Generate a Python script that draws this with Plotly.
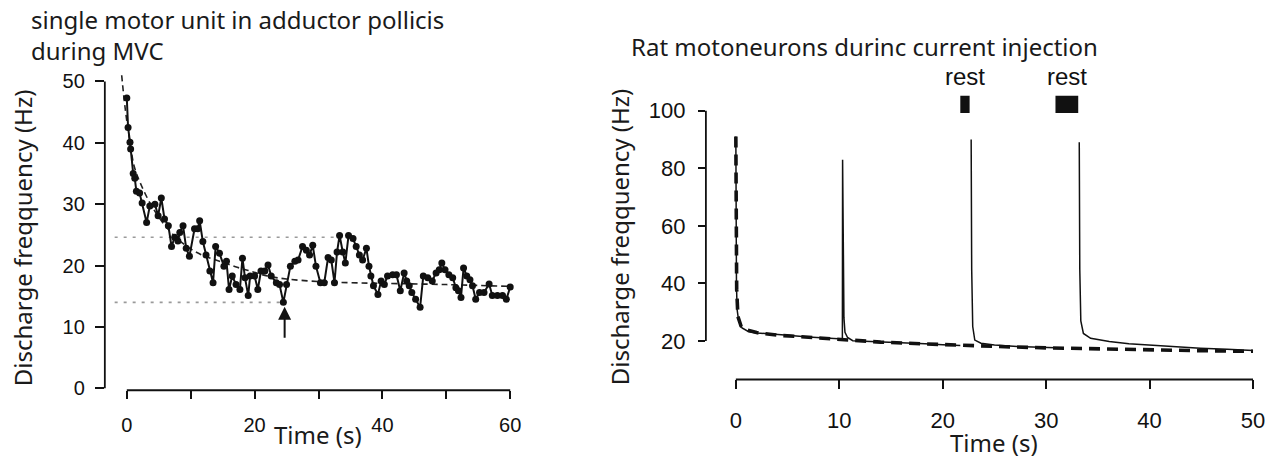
import plotly.graph_objects as go

W, H = 1279, 463

# ---------------- Left panel data (single motor unit, adductor pollicis) ----------------
mu_time = [0, 0.2, 0.5, 0.6, 1.0, 1.25, 1.5, 2.0, 2.4, 3.1, 3.6, 4.4, 4.9, 5.4, 5.9, 6.5,
           7.0, 7.5, 8.0, 8.3, 8.8, 9.3, 9.8, 10.6, 11.1, 11.4, 11.9, 12.4, 13.0, 13.5,
           13.9, 14.5, 15.2, 15.6, 16.0, 16.5, 17.1, 17.7, 18.1, 18.5, 19.0, 19.3, 20.0,
           20.5, 21.0, 21.6, 22.1, 22.6, 23.4, 23.9, 24.5, 25.0, 25.6, 26.3, 26.8, 27.5,
           28.1, 28.6, 29.1, 29.6, 30.3, 30.9, 31.5, 32.0, 32.5, 32.9, 33.3, 33.8, 34.2,
           34.7, 35.4, 35.9, 36.4, 36.9, 37.5, 37.9, 38.2, 38.6, 39.3, 39.8, 40.3, 40.8,
           41.6, 42.2, 42.8, 43.4, 43.8, 44.2, 44.6, 45.2, 45.9, 46.4, 47.1, 47.8, 48.4,
           48.9, 49.3, 49.8, 50.4, 51.0, 51.5, 51.9, 52.3, 52.7, 53.2, 53.7, 54.1, 54.6,
           55.2, 55.9, 56.7, 57.2, 58.0, 58.8, 59.4, 60.0]
mu_freq = [47.3, 42.5, 40.1, 39.0, 35.0, 34.2, 32.1, 31.8, 30.2, 27.0, 29.7, 30.0, 28.1, 31.0,
           27.6, 26.5, 23.1, 24.6, 24.0, 25.4, 26.5, 22.8, 21.5, 26.0, 26.0, 27.3, 23.9, 21.7,
           19.1, 17.2, 23.1, 22.0, 19.9, 20.7, 16.1, 18.3, 16.9, 16.1, 21.2, 18.0, 15.1, 18.3,
           18.3, 16.1, 19.1, 19.1, 20.1, 18.3, 17.2, 16.9, 14.0, 16.9, 19.9, 20.7, 20.9, 23.1,
           22.5, 21.7, 23.3, 19.9, 17.2, 17.2, 21.3, 20.9, 17.2, 22.2, 24.9, 22.2, 20.4, 24.9,
           24.4, 23.1, 21.7, 20.9, 22.8, 19.9, 18.3, 16.7, 15.3, 17.5, 16.9, 18.3, 18.5, 18.5,
           15.9, 18.8, 17.5, 16.7, 15.6, 14.5, 13.2, 18.3, 18.0, 17.5, 18.8, 19.3, 20.4, 19.3,
           18.5, 18.0, 16.4, 15.9, 14.8, 19.6, 18.3, 17.7, 16.7, 14.5, 15.6, 15.6, 17.0, 15.1,
           15.1, 15.1, 14.5, 16.5]

mu_fit_time = [-0.8, -0.3, 0.5, 1.2, 2.3, 4.0, 6.0, 8.0, 10.0, 12.0, 14.5, 17.0, 19.0, 22.0,
               25.0, 30.0, 35.0, 40.0, 50.0, 60.0]
mu_fit_freq = [51.0, 46.0, 40.0, 36.0, 33.0, 29.5, 26.5, 24.3, 22.7, 21.6, 20.7, 19.8, 19.2,
               18.3, 17.8, 17.4, 17.2, 17.1, 16.9, 16.6]

ref_levels = [24.6, 14.0]          # dotted reference levels (Hz)
ref_start = -1.9
ref_ends = [33.3, 24.7]
arrow_time, arrow_tip, arrow_tail = 24.7, 13.3, 8.0

left_xticks = [0, 10, 20, 30, 40, 50, 60]
left_xticktext = ["0", "", "20", "", "40", "", "60"]
left_yticks = [0, 10, 20, 30, 40, 50]

# ---------------- Right panel data (rat motoneurons, current injection) ----------------
rat_time = [0, 0.02, 0.06, 0.12, 0.25, 0.6, 1.2, 2.0, 3.5, 5.0, 7.0, 9.0, 10.3,
            10.32, 10.38, 10.45, 10.55, 10.8, 11.3, 13.9, 16.0, 18.3, 20.0, 21.7, None,
            22.75, 22.8, 22.9, 23.1, 23.7, 25.0, 27.2, 29.0, 30.9, None,
            33.2, 33.25, 33.35, 33.6, 34.3, 36.1, 38.0, 40.5, 42.5, 44.9, 47.5, 50.0]
rat_freq = [91, 60, 40, 31, 27.5, 24.5, 23.3, 22.8, 22.3, 22.0, 21.4, 21.0, 20.7,
            83, 45, 28, 23, 21.2, 20.1, 19.6, 19.3, 19.0, 18.7, 18.4, None,
            90, 45, 25, 20.3, 19.2, 18.6, 18.1, 17.8, 17.6, None,
            89, 45, 27, 22.6, 20.9, 19.8, 19.0, 18.4, 17.9, 17.5, 17.1, 16.7]

rat_fit_time = [0, 0.03, 0.08, 0.2, 0.5, 1, 2, 4, 7, 10, 14, 18, 22, 26, 30, 35, 40, 45, 50]
rat_fit_freq = [91, 60, 38, 28.5, 25.2, 23.9, 22.9, 22.0, 21.2, 20.4, 19.6, 19.0, 18.4, 18.0,
                17.6, 17.2, 16.9, 16.6, 16.4]

rest_start = [21.7, 30.9]
rest_end = [22.6, 33.1]
rest_low, rest_high = 99.2, 105.2
rest_label = ["rest", "rest"]
rest_label_y = 111.9

right_xticks = [0, 10, 20, 30, 40, 50]
right_yticks = [20, 40, 60, 80, 100]

# ---------------- layout geometry (pixels) ----------------
def px_x(p):
    return p / W

def px_y(p):
    return 1 - p / H

L_x0, L_x1 = 105, 520
L_y0, L_y1 = 70, 398
L_t0, L_tpx = 127, 6.4      # pixel of t=0, px per s
L_f0, L_fpx = 396, 6.26     # pixel of 0 Hz, px per Hz
L_xrange = [(L_x0 - L_t0) / L_tpx, (L_x1 - L_t0) / L_tpx]
L_yrange = [(L_f0 - L_y1) / L_fpx, (L_f0 - L_y0) / L_fpx]

R_x0, R_x1 = 707, 1268
R_y0, R_y1 = 60, 387
R_t0, R_tpx = 737, 10.36
R_f0, R_fpx = 406.4, 2.935
R_xrange = [(R_x0 - R_t0) / R_tpx, (R_x1 - R_t0) / R_tpx]
R_yrange = [(R_f0 - R_y1) / R_fpx, (R_f0 - R_y0) / R_fpx]

fig = go.Figure()

for lvl, end in zip(ref_levels, ref_ends):
    fig.add_trace(go.Scatter(x=[ref_start, end], y=[lvl, lvl], mode="lines",
                             line=dict(color="#9a9a9a", width=1.6, dash="3px,6px"),
                             xaxis="x", yaxis="y", showlegend=False, hoverinfo="skip"))

fig.add_trace(go.Scatter(x=mu_fit_time, y=mu_fit_freq, mode="lines",
                         line=dict(color="#222", width=1.6, dash="6px,4px", shape="spline"),
                         xaxis="x", yaxis="y", showlegend=False))
fig.add_trace(go.Scatter(x=mu_time, y=mu_freq, mode="lines+markers",
                         line=dict(color="#111", width=2),
                         marker=dict(color="#111", size=7),
                         xaxis="x", yaxis="y", showlegend=False))

fig.add_trace(go.Scatter(x=rat_time, y=rat_freq, mode="lines",
                         line=dict(color="#111", width=1.5),
                         connectgaps=False,
                         xaxis="x2", yaxis="y2", showlegend=False))
fig.add_trace(go.Scatter(x=rat_fit_time, y=rat_fit_freq, mode="lines",
                         line=dict(color="#111", width=3.6, dash="11px,7px"),
                         xaxis="x2", yaxis="y2", showlegend=False))

tickfont_l = dict(family="Liberation Sans, Arial, sans-serif", size=20, color="#111")
tickfont_r = dict(family="Liberation Sans, Arial, sans-serif", size=22, color="#111")

fig.update_layout(
    width=W, height=H,
    margin=dict(l=0, r=0, t=0, b=0),
    paper_bgcolor="white", plot_bgcolor="white",
    xaxis=dict(domain=[px_x(L_x0), px_x(L_x1)], range=L_xrange, anchor="y",
               showgrid=False, zeroline=False, showline=False,
               ticks="outside", ticklen=8, tickwidth=1.5, tickcolor="#111",
               tickvals=left_xticks, ticktext=left_xticktext, tickfont=tickfont_l,
               ticklabelstandoff=9),
    yaxis=dict(domain=[px_y(L_y1), px_y(L_y0)], range=L_yrange, anchor="x",
               showgrid=False, zeroline=False, showline=False,
               ticks="outside", ticklen=9, tickwidth=1.5, tickcolor="#111",
               tickvals=left_yticks, tickfont=tickfont_l, ticklabelstandoff=6),
    xaxis2=dict(domain=[px_x(R_x0), px_x(R_x1)], range=R_xrange, anchor="y2",
                showgrid=False, zeroline=False, showline=False,
                ticks="outside", ticklen=9, tickwidth=1.5, tickcolor="#111",
                tickvals=right_xticks, tickfont=tickfont_r, ticklabelstandoff=12),
    yaxis2=dict(domain=[px_y(R_y1), px_y(R_y0)], range=R_yrange, anchor="x2",
                showgrid=False, zeroline=False, showline=False,
                ticks="outside", ticklen=7, tickwidth=1.5, tickcolor="#111",
                tickvals=right_yticks, tickfont=tickfont_r, ticklabelstandoff=8),
)

axis_line = dict(color="#111", width=1.8)
fig.add_shape(type="line", xref="x", yref="y domain", x0=left_xticks[0], x1=left_xticks[-1],
              y0=0, y1=0, line=axis_line)
fig.add_shape(type="line", xref="x domain", yref="y", x0=0, x1=0,
              y0=left_yticks[0], y1=left_yticks[-1], line=axis_line)
fig.add_shape(type="line", xref="x2", yref="y2 domain", x0=right_xticks[0], x1=right_xticks[-1],
              y0=0, y1=0, line=axis_line)
fig.add_shape(type="line", xref="x2 domain", yref="y2", x0=0, x1=0,
              y0=right_yticks[0], y1=right_yticks[-1], line=axis_line)

for s, e in zip(rest_start, rest_end):
    fig.add_shape(type="rect", xref="x2", yref="y2", x0=s, x1=e, y0=rest_low, y1=rest_high,
                  fillcolor="#111", line=dict(width=0))
for s, e, lab in zip(rest_start, rest_end, rest_label):
    fig.add_annotation(x=(s + e) / 2, y=rest_label_y, xref="x2", yref="y2", text=lab,
                       xanchor="center", yanchor="middle", showarrow=False,
                       font=dict(family="Liberation Sans, Arial", size=24, color="#111"))

fig.add_annotation(x=arrow_time, y=arrow_tip, ax=arrow_time, ay=arrow_tail,
                   xref="x", yref="y", axref="x", ayref="y", text="", showarrow=True,
                   arrowhead=2, arrowsize=1.3, arrowwidth=2, arrowcolor="#111")

title_font = dict(family="Noto Sans, Open Sans, sans-serif", size=24, color="#1a1a1a")

def label(text, x, y, angle=0, xanchor="center"):
    fig.add_annotation(x=px_x(x), y=px_y(y), xref="paper", yref="paper",
                       xanchor=xanchor, yanchor="middle", align="left", textangle=angle,
                       text=text, showarrow=False, font=title_font, borderpad=0)

label("single motor unit in adductor pollicis<br>during MVC", 30, 36, xanchor="left")
label("Rat motoneurons durinc current injection", 866, 47)
label("Discharge freqquency (Hz)", 22, 242, angle=-90)
label("Discharge freqquency (Hz)", 620, 242, angle=-90)
label("Time (s)", 318, 443)
label("Time (s)", 996, 451)

fig.write_html("out.html")
